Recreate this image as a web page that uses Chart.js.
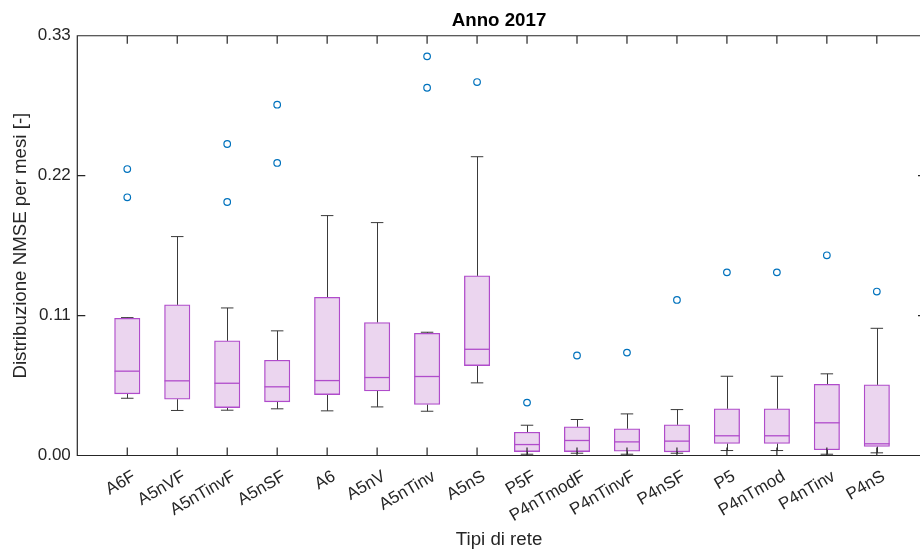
<!DOCTYPE html>
<html>
<head>
<meta charset="utf-8">
<script src="https://cdn.jsdelivr.net/npm/chart.js@4"></script>
<style>
    html, body { margin: 0; padding: 0; background: #fff; overflow: hidden; }
    #clip { width: 920px; height: 557px; overflow: hidden; position: relative; }
    #wrap { width: 926px; height: 557px; position: absolute; left: 0; top: 0; }
    #chart { display: block; }
</style>
</head>
<body>
<div id="clip"><div id="wrap"><canvas id="chart"></canvas></div></div>
<script>
    'use strict';

    const categories = ['A6F', 'A5nVF', 'A5nTinvF', 'A5nSF', 'A6', 'A5nV', 'A5nTinv', 'A5nS',
        'P5F', 'P4nTmodF', 'P4nTinvF', 'P4nSF', 'P5', 'P4nTmod', 'P4nTinv', 'P4nS'];
    const whiskerLow = [0.0450, 0.0354, 0.0356, 0.0367, 0.0351, 0.0382, 0.0348, 0.0571,
        0.0010, 0.0018, 0.0010, 0.0018, 0.0039, 0.0039, 0.0010, 0.0021];
    const q1 = [0.0485, 0.0443, 0.0377, 0.0422, 0.0479, 0.0508, 0.0401, 0.0707,
        0.0031, 0.0031, 0.0034, 0.0029, 0.0094, 0.0094, 0.0045, 0.0071];
    const medians = [0.0663, 0.0587, 0.0568, 0.0540, 0.0589, 0.0613, 0.0621, 0.0835,
        0.0086, 0.0118, 0.0107, 0.0113, 0.0155, 0.0155, 0.0257, 0.0092];
    const q3 = [0.1079, 0.1184, 0.0901, 0.0749, 0.1244, 0.1045, 0.0961, 0.1412,
        0.0183, 0.0225, 0.0210, 0.0241, 0.0367, 0.0367, 0.0560, 0.0555];
    const whiskerHigh = [0.1084, 0.1721, 0.1160, 0.0980, 0.1886, 0.1831, 0.0969, 0.2349,
        0.0238, 0.0283, 0.0327, 0.0361, 0.0623, 0.0623, 0.0642, 0.1000];
    const outliers = [[0.2252, 0.2030], [], [0.2449, 0.1993], [0.2758, 0.2300], [], [], [0.3138, 0.2891], [0.2936],
        [0.0416], [0.0786], [0.0809], [0.1223], [0.1440], [0.1440], [0.1574], [0.1289]];
    const yTicks = [0, 0.11, 0.22, 0.33];

    const BOX_EDGE = '#b04ccb';
    const BOX_FILL = '#ebd5ef';
    const WHISKER = '#3a3a3a';
    const AXIS = '#262626';
    const OUTLIER = '#0072bd';
    const FONT = "'Liberation Sans', Arial, Helvetica, sans-serif";

    const boxData = categories.map((_, i) => ({ x: i + 1, y: [q1[i], q3[i]] }));
    const outlierData = [];
    outliers.forEach((vals, i) => vals.forEach(v => outlierData.push({ x: i + 1, y: v })));

    // whiskers, medians and the axes frame (ticks pointing inward)
    const boxExtras = {
        id: 'boxExtras',
        beforeDatasetsDraw(chart) {
            const { ctx, scales: { x, y } } = chart;
            ctx.save();
            ctx.strokeStyle = WHISKER;
            ctx.lineWidth = 1;
            categories.forEach((_, i) => {
                const cx = Math.round(x.getPixelForValue(i + 1)) + 0.5;
                const c0 = x.getPixelForValue(i + 1 - 0.125);
                const c1 = x.getPixelForValue(i + 1 + 0.125);
                const yl = y.getPixelForValue(whiskerLow[i]);
                const yh = y.getPixelForValue(whiskerHigh[i]);
                ctx.beginPath();
                ctx.moveTo(cx, y.getPixelForValue(q3[i]));
                ctx.lineTo(cx, yh);
                ctx.moveTo(cx, y.getPixelForValue(q1[i]));
                ctx.lineTo(cx, yl);
                ctx.moveTo(c0, yh);
                ctx.lineTo(c1, yh);
                ctx.moveTo(c0, yl);
                ctx.lineTo(c1, yl);
                ctx.stroke();
            });
            ctx.restore();
        },
        afterDatasetsDraw(chart) {
            const { ctx, chartArea: a, scales: { x, y } } = chart;
            ctx.save();
            ctx.strokeStyle = BOX_EDGE;
            ctx.lineWidth = 1.3;
            categories.forEach((_, i) => {
                const ym = y.getPixelForValue(medians[i]);
                ctx.beginPath();
                ctx.moveTo(x.getPixelForValue(i + 1) - 12.7, ym);
                ctx.lineTo(x.getPixelForValue(i + 1) + 12.7, ym);
                ctx.stroke();
            });

            // right side of the box lies just outside the picture
            const edge = chart.width;
            ctx.strokeStyle = AXIS;
            ctx.lineWidth = 1.2;
            ctx.beginPath();
            ctx.moveTo(edge, a.top);
            ctx.lineTo(a.left, a.top);
            ctx.lineTo(a.left, a.bottom);
            ctx.lineTo(edge, a.bottom);
            const tl = 8;
            categories.forEach((_, i) => {
                const px = x.getPixelForValue(i + 1);
                ctx.moveTo(px, a.bottom);
                ctx.lineTo(px, a.bottom - tl);
                ctx.moveTo(px, a.top);
                ctx.lineTo(px, a.top + tl);
            });
            yTicks.forEach(v => {
                const py = y.getPixelForValue(v);
                ctx.moveTo(a.left, py);
                ctx.lineTo(a.left + tl, py);
                ctx.moveTo(edge, py);
                ctx.lineTo(edge - tl, py);
            });
            ctx.stroke();
            ctx.restore();
        }
    };

    new Chart(document.getElementById('chart'), {
        type: 'bar',
        data: {
            datasets: [
                {
                    type: 'scatter',
                    label: 'Outlier',
                    data: outlierData,
                    pointStyle: 'circle',
                    pointRadius: 3.3,
                    pointBorderWidth: 1.2,
                    pointBorderColor: OUTLIER,
                    pointBackgroundColor: 'rgba(0,0,0,0)',
                    order: 0
                },
                {
                    type: 'bar',
                    label: 'Box',
                    data: boxData,
                    backgroundColor: BOX_FILL,
                    borderColor: BOX_EDGE,
                    borderWidth: 1.3,
                    borderSkipped: false,
                    barThickness: 25.4,
                    order: 1
                }
            ]
        },
        options: {
            responsive: true,
            maintainAspectRatio: false,
            animation: false,
            layout: { padding: 0 },
            plugins: {
                legend: { display: false },
                tooltip: { enabled: false },
                title: {
                    display: true,
                    text: 'Anno 2017',
                    fullSize: false,
                    color: '#000',
                    font: { family: FONT, size: 18.7, weight: 'bold' },
                    padding: { top: 9.5, bottom: 3.8 }
                }
            },
            scales: {
                x: {
                    type: 'linear',
                    min: 0,
                    max: 16.88,
                    offset: false,
                    grid: { display: false, drawTicks: false, offset: false },
                    border: { display: false },
                    afterBuildTicks: s => { s.ticks = categories.map((_, i) => ({ value: i + 1 })); },
                    afterFit: s => {
                        s.height = 101.5;
                        s.paddingLeft = 0;
                        s.paddingRight = 0;
                    },
                    ticks: {
                        autoSkip: false,
                        minRotation: 30,
                        maxRotation: 30,
                        padding: 11,
                        labelOffset: 7,
                        color: AXIS,
                        font: { family: FONT, size: 17 },
                        callback: v => categories[v - 1]
                    },
                    title: {
                        display: true,
                        text: 'Tipi di rete',
                        color: AXIS,
                        font: { family: FONT, size: 18.7 },
                        padding: { top: 0, bottom: 5.8 }
                    }
                },
                y: {
                    min: 0,
                    max: 0.33,
                    grid: { display: false, drawTicks: false },
                    border: { display: false },
                    afterBuildTicks: s => { s.ticks = yTicks.map(v => ({ value: v })); },
                    afterFit: s => {
                        s.width = 77.3;
                        s.paddingTop = 0;
                        s.paddingBottom = 0;
                    },
                    ticks: {
                        padding: 6.5,
                        color: AXIS,
                        font: { family: FONT, size: 17 },
                        callback: v => v.toFixed(2)
                    },
                    title: {
                        display: true,
                        text: 'Distribuzione NMSE per mesi [-]',
                        color: AXIS,
                        font: { family: FONT, size: 18.7 },
                        padding: { top: 10, bottom: 0 }
                    }
                }
            }
        },
        plugins: [boxExtras]
    });
</script>
</body>
</html>
